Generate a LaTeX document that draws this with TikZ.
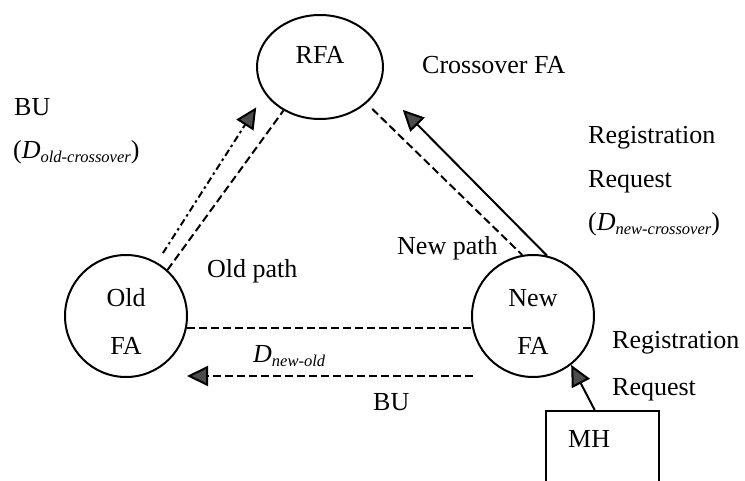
\documentclass[tikz,border=0pt]{standalone}
\usepackage{fontspec}
\setmainfont{Liberation Serif}
\usetikzlibrary{arrows.meta,shapes.geometric,calc}
% lowered italic subscript used in the delay labels
\newcommand\lowsub[1]{\raisebox{-4pt}{\fontsize{16.5}{16.5}\selectfont\itshape #1}}
\begin{document}
\begin{tikzpicture}[x=1pt,y=-1pt,
  txt/.style={font=\fontsize{26}{30}\selectfont, inner sep=0pt, anchor=base west},
  agent/.style={draw, circle, line width=2pt, minimum size=122pt, inner sep=0pt,
    align=center, font=\fontsize{26}{48}\selectfont},
  tip/.style={-{Triangle[length=21pt,width=20pt,fill=black!70]}},
  pathline/.style={line width=2pt, dash pattern=on 8pt off 4pt},
  dashdot/.style={line width=2pt, dash pattern=on 7pt off 3.5pt on 2.5pt off 3.5pt},
  msg/.style={line width=2pt}
]
\clip (0,0) rectangle (745,480);
\fill[white] (0,0) rectangle (745,480);

% foreign agents
\node[draw, ellipse, line width=2pt, minimum width=126pt, minimum height=104pt,
  inner sep=0pt, text height=15pt, text depth=23pt,
  font=\fontsize{26}{30}\selectfont] (rfa) at (320,67) {RFA};
\node[agent] (old) at (126,316) {\rule{0pt}{28pt}Old\\FA};
\node[agent] (new) at (533,316) {\rule{0pt}{28pt}New\\FA};

% mobile host
\node[draw, line width=2.4pt, anchor=north west, text width=69pt, align=left,
  inner xsep=22pt, inner ysep=19pt, text height=17pt, text depth=80pt,
  font=\fontsize{26}{30}\selectfont] (mh) at (545,410) {MH};

% paths between agents
\draw[pathline] (old.48) -- (rfa.230);
\draw[pathline, shorten <=8pt] (rfa.322) -- (new.100);
\draw[pathline] (old.349) -- (new.191);

% binding update from old FA to crossover FA
\draw[dashdot, tip, shorten <=11pt, shorten >=16pt] (old.60) -- (rfa.206);

% registration request from new FA to crossover FA
\draw[msg, tip, shorten >=33pt] (new.77) -- (rfa.342);

% registration request from MH to new FA
\draw[msg, tip] ($(mh.north)+(-8,0)$) -- (new.308);

% binding update from new FA to old FA
\coordinate (bufrom) at (473,376);
\coordinate (buto) at (187,376);
\draw[pathline, tip] (bufrom) -- (buto);

% labels
\node[txt] (bu1) at (14,115) {BU};
\node[txt] (dold) at (13,158) {(\textit{D}\lowsub{old-crossover})};
\node[txt] (cfa) at (422,73) {Crossover FA};
\node[txt] (reg1) at (588,143) {Registration};
\node[txt] (req1) at (588,187) {Request};
\node[txt] (dnew) at (588,230) {(\textit{D}\lowsub{new-crossover})};
\node[txt] (npath) at (397,254) {New path};
\node[txt] (opath) at (207,277) {Old path};
\node[txt] (dno) at (253,362) {\textit{D}\lowsub{new-old}};
\node[txt] (bu2) at (373,410) {BU};
\node[txt] (reg2) at (612,348) {Registration};
\node[txt] (req2) at (612,395) {Request};
\end{tikzpicture}
\end{document}
